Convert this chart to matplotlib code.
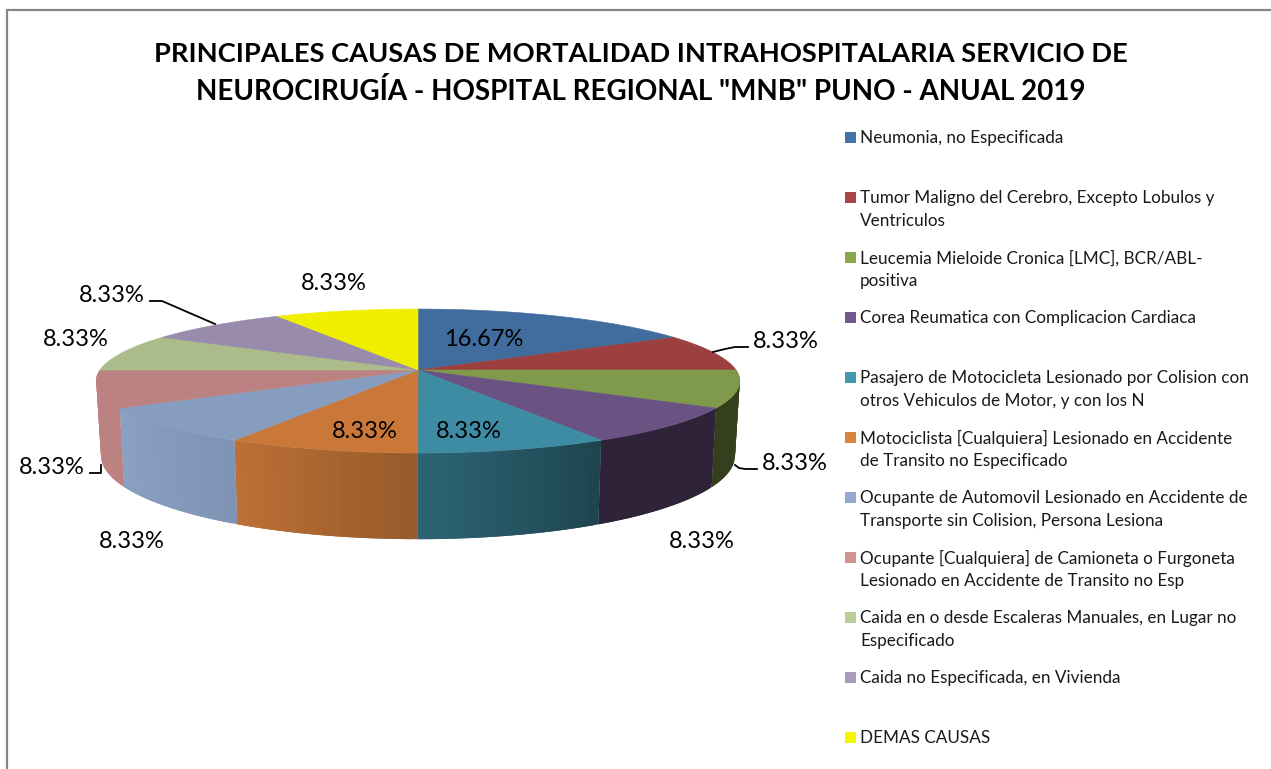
"""Mortality causes 3D pie chart, drawn as a projected disc."""

import numpy as np
import matplotlib

matplotlib.use("Agg")
import matplotlib.pyplot as plt
from matplotlib.collections import PolyCollection
from matplotlib.colors import to_rgb
from matplotlib.patches import Polygon, Rectangle

TITLE = [
    "PRINCIPALES CAUSAS DE MORTALIDAD INTRAHOSPITALARIA SERVICIO DE",
    'NEUROCIRUGÍA - HOSPITAL REGIONAL "MNB" PUNO - ANUAL 2019',
]
causes = [
    ["Neumonia, no Especificada"],
    ["Tumor Maligno del Cerebro, Excepto Lobulos y", "Ventriculos"],
    ["Leucemia Mieloide Cronica [LMC], BCR/ABL-", "positiva"],
    ["Corea Reumatica con Complicacion Cardiaca"],
    ["Pasajero de Motocicleta Lesionado por Colision con", "otros Vehiculos de Motor, y con los N"],
    ["Motociclista [Cualquiera] Lesionado en Accidente", "de Transito no Especificado"],
    ["Ocupante de Automovil Lesionado en Accidente de", "Transporte sin Colision, Persona Lesiona"],
    ["Ocupante [Cualquiera] de Camioneta o Furgoneta", "Lesionado en Accidente de Transito no Esp"],
    ["Caida en o desde Escaleras Manuales, en Lugar no", "Especificado"],
    ["Caida no Especificada, en Vivienda"],
    ["DEMAS CAUSAS"],
]
shares = [16.67, 8.33, 8.33, 8.33, 8.33, 8.33, 8.33, 8.33, 8.33, 8.33, 8.33]

top_colors = ["#406c9e", "#9b403e", "#7f9a4a", "#6a5283", "#3e8ba4", "#c9783a",
              "#869dbf", "#bc8282", "#abbb8a", "#998bab", "#f0ef00"]
legend_colors = ["#4472a8", "#a94543", "#8aa84f", "#71588f", "#4198af", "#db843d",
                 "#93a9cf", "#d19392", "#b9cd96", "#a99bbd", "#f5f500"]
side_colors = [("#406c9e", "#406c9e"), ("#9b403e", "#9b403e"), ("#363f1d", "#363f1d"),
               ("#2e2339", "#2e2339"), ("#1f454f", "#2c6475"), ("#965b2b", "#bc7034"),
               ("#7f94b5", "#8aa1c3"), ("#bc8282", "#bc8282"), ("#abbb8a", "#abbb8a"),
               ("#998bab", "#998bab"), ("#f0ef00", "#f0ef00")]

label_pos = [(484, 337), (786, 340), (795, 462), (702, 540), (469, 430), (365, 430),
             (132, 540), (52, 466), (76, 338), (112, 294), (334, 282)]
leaders = [
    [(713, 352), (725, 349), (735, 347), (748, 347)],
    [(735, 465), (739, 468), (745, 469), (757, 469)],
    [(90, 473), (101, 473), (101, 465)],
    [(150, 301), (162, 301), (215, 324)],
]

# projection of the disc, in pixels
CX, CY = 418, 370
RX, RY = 318, 70.3
PERSP = 0.153
DEPTH = 73
BOTTOM_SCALE = 0.985


def rim(theta, bottom=False):
    # theta runs clockwise from the top of the pie, in degrees
    t = np.radians(theta)
    x3, y3 = np.sin(t), -np.cos(t)
    w = 1 / (1 - PERSP * y3)
    if bottom:
        return CX + BOTTOM_SCALE * RX * x3 * w, CY + (RY * y3 + DEPTH) * w
    return CX + RX * x3 * w, CY + RY * y3 * w


def mix(a, b, f):
    a, b = np.array(to_rgb(a)), np.array(to_rgb(b))
    return tuple(a + (b - a) * f)


fig = plt.figure(figsize=(12.71, 7.69), dpi=100)
ax = fig.add_axes([0, 0, 1, 1])
ax.set_xlim(0, 1271)
ax.set_ylim(769, 0)
ax.axis("off")
plt.rcParams["font.family"] = ["Lato", "DejaVu Sans"]

# chart frame
ax.plot([7, 7, 1271], [769, 10, 10], color="#868686", lw=1.6, solid_joinstyle="miter")

edges = np.concatenate([[0], np.cumsum(shares)]) / sum(shares) * 360

# side wall first, the top face goes over it. Quads overlap the next step to hide seams
for i in range(len(shares)):
    lo, hi = max(edges[i], 90), min(edges[i + 1], 270)
    if hi <= lo:
        continue
    steps = np.linspace(lo, hi, 31)
    quads, cols = [], []
    for j, a in enumerate(steps[:-1]):
        b = steps[min(j + 2, len(steps) - 1)]
        quads.append([rim(a), rim(b), rim(b, bottom=True), rim(a, bottom=True)])
        cols.append(mix(side_colors[i][0], side_colors[i][1], j / 29))
    ax.add_collection(PolyCollection(quads, facecolors=cols, edgecolors="none"))

# top face
for i in range(len(shares)):
    steps = np.linspace(edges[i], edges[i + 1], 40)
    xs, ys = rim(steps)
    pts = [(CX, CY)] + list(zip(xs, ys))
    ax.add_patch(Polygon(pts, closed=True, facecolor=top_colors[i], edgecolor=top_colors[i], lw=0.4))

for pts in leaders:
    ax.plot([p[0] for p in pts], [p[1] for p in pts], color="black", lw=1.3)

for share, (x, y) in zip(shares, label_pos):
    ax.text(x, y + 2, f"{share:.2f}%", fontsize=17, ha="center", va="center", color="black")

# second title line runs a bit wider in the original font
for k, (line, size) in enumerate(zip(TITLE, [19.6, 20.0])):
    ax.text(641, 54 + 38 * k, line, fontsize=size, fontweight="bold", ha="center", va="center")

# legend, one row every 60 px with wrapped entries
for i, lines in enumerate(causes):
    y0 = 137 + 60 * i
    ax.add_patch(Rectangle((845, y0 - 5.5), 11, 11, facecolor=legend_colors[i], edgecolor="none"))
    for k, line in enumerate(lines):
        ax.text(860, y0 + 1 + 23 * k, line, fontsize=12.35, ha="left", va="center", color="#1a1a1a")

fig.savefig("out.png", dpi=100)
plt.close(fig)
